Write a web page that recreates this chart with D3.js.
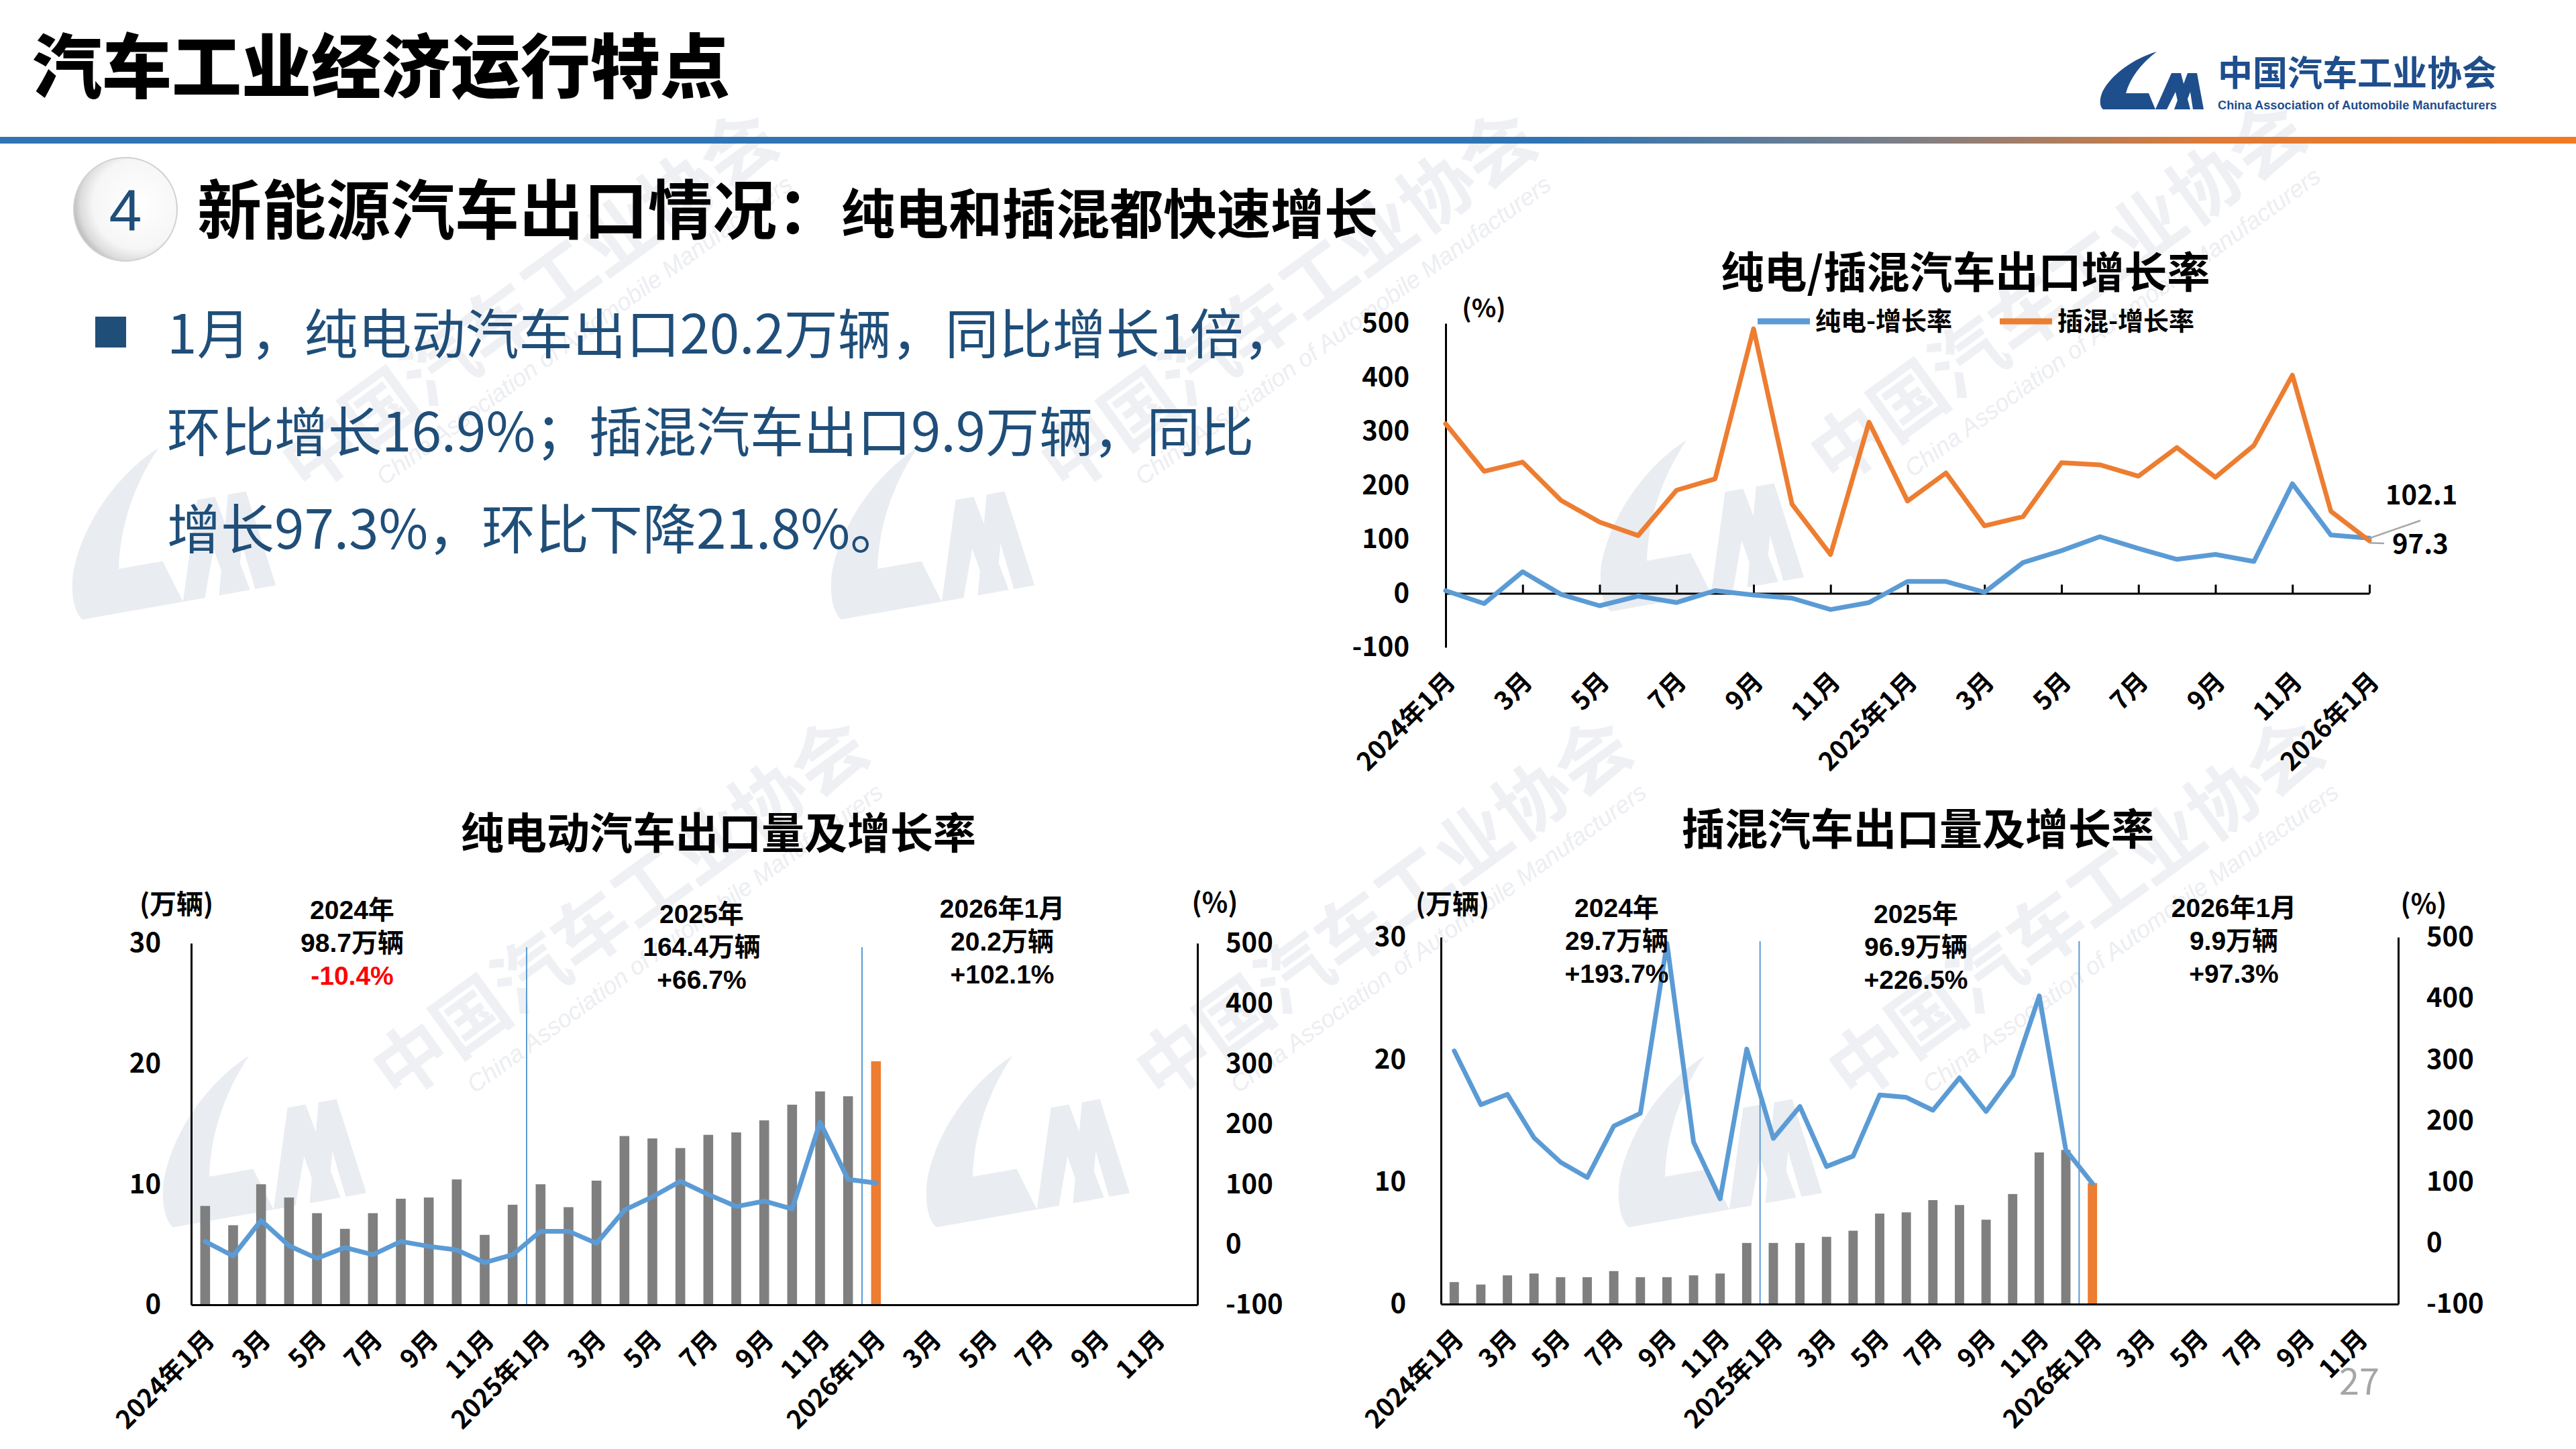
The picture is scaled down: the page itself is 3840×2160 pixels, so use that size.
<!DOCTYPE html>
<html><head><meta charset="utf-8">
<script src="https://cdn.jsdelivr.net/npm/d3@7/dist/d3.min.js"></script>
<style>
html,body{margin:0;padding:0;background:#fff;}
svg{display:block;}
</style></head><body>
<svg id="c" width="3840" height="2160"></svg>
<script>
// ---------------- DATA ----------------
const categories = ["2024年1月","2月","3月","4月","5月","6月","7月","8月","9月","10月","11月","12月",
  "2025年1月","2月","3月","4月","5月","6月","7月","8月","9月","10月","11月","12月",
  "2026年1月","2月","3月","4月","5月","6月","7月","8月","9月","10月","11月","12月"];
// 纯电 增长率 (%)
const bevGrowth = [5, -19, 40, -2, -23, -5, -17, 5, -3, -9, -30, -17, 22, 22, 2, 57, 79, 105, 83, 63, 72, 59, 203, 108, 102.1];
// 插混 增长率 (%)
const phevGrowth = [314, 226, 243, 172, 132, 107, 191, 212, 490, 165, 72, 317, 171, 223, 125, 142, 242, 238, 217, 270, 215, 274, 404, 152, 97.3];
// 纯电 出口量 (万辆)
const bevVolume = [8.2, 6.6, 10.0, 8.9, 7.6, 6.3, 7.6, 8.8, 8.9, 10.4, 5.8, 8.3, 10.0, 8.1, 10.3, 14.0, 13.8, 13.0, 14.1, 14.3, 15.3, 16.6, 17.7, 17.3, 20.2];
// 插混 出口量 (万辆)
const phevVolume = [1.8, 1.6, 2.35, 2.5, 2.2, 2.2, 2.7, 2.2, 2.2, 2.35, 2.5, 5.0, 5.0, 5.0, 5.5, 6.0, 7.4, 7.5, 8.5, 8.1, 6.9, 9.0, 12.4, 12.6, 9.9];
const growthTicks = [-100, 0, 100, 200, 300, 400, 500];
const volumeTicks = [0, 10, 20, 30];
const bevAnnotations = [["2024年","98.7万辆","-10.4%"],["2025年","164.4万辆","+66.7%"],["2026年1月","20.2万辆","+102.1%"]];
const phevAnnotations = [["2024年","29.7万辆","+193.7%"],["2025年","96.9万辆","+226.5%"],["2026年1月","9.9万辆","+97.3%"]];
const bulletLines = ["1月，纯电动汽车出口20.2万辆，同比增长1倍，","环比增长16.9%；插混汽车出口9.9万辆，同比","增长97.3%，环比下降21.8%。"];

// ---------------- SETUP ----------------
const FONT = '"Noto Sans CJK SC","Noto Sans",sans-serif';
const ANNFONT = '"Liberation Sans","Noto Sans CJK SC",sans-serif';
const BLUE = "#5b9bd5", ORANGE = "#ed7d31", BARGRAY = "#7f7f7f", NAVY = "#1f4e79", LOGOBLUE = "#1f4e8c";
const svg = d3.select("#c").attr("font-family", FONT);
const defs = svg.append("defs");

const lg = defs.append("linearGradient").attr("id","hdr").attr("x1","0").attr("x2","1").attr("y1","0").attr("y2","0");
[[0,"#2f75b5"],[0.6,"#2f75b5"],[0.74,"#7d7f86"],[0.86,"#e07a34"],[1,"#f47920"]].forEach(s=>lg.append("stop").attr("offset",s[0]).attr("stop-color",s[1]));
const rg = defs.append("radialGradient").attr("id","circ").attr("cx","0.62").attr("cy","0.45").attr("r","0.62");
[[0,"#ffffff"],[0.7,"#f6f6f6"],[0.9,"#dcdcdc"],[1,"#bfbfbf"]].forEach(s=>rg.append("stop").attr("offset",s[0]).attr("stop-color",s[1]));

const LOGO_PATHS = [
  "M86,0 C52,10 18,34 5,60 C0,72 1,82 6,86 L84,86 L74,62 L40,62 C46,40 62,18 86,0 Z",
  "M84,86 L108,32 L122,32 L136,86 L120,86 L114,60 L101,86 Z",
  "M112,86 L132,32 L146,32 L156,86 L140,86 L136,60 L126,86 Z"
];
function drawLogo(g, fill){ LOGO_PATHS.forEach(p=>g.append("path").attr("d",p).attr("fill",fill)); }

// ---------------- WATERMARKS ----------------
const wmUnits = [[245,784],[1376,784],[2523,772],[380,1690],[1518,1690],[2550,1690]];
const wm = svg.append("g");
wmUnits.forEach(([cx,cy])=>{
  const g = wm.append("g").attr("transform",`translate(${cx},${cy})`);
  const lgp = g.append("g").attr("transform","rotate(-10) scale(1.95,2.7) translate(-80,-43)");
  drawLogo(lgp, "#e9ecf1");
  const t = g.append("g").attr("transform","translate(545,-335) rotate(-36)");
  t.append("text").attr("text-anchor","middle").attr("dy","0.35em").attr("font-size",110).attr("font-weight",700)
    .attr("fill","#eef0f4").text("中国汽车工业协会");
  t.append("text").attr("text-anchor","middle").attr("x",40).attr("y",95).attr("font-size",36).attr("font-style","italic")
    .attr("font-family","Liberation Sans, Arial, sans-serif").attr("fill","#eceef2").text("China Association of Automobile Manufacturers");
});

// ---------------- HEADER ----------------
svg.append("text").attr("x",48).attr("y",138).attr("font-size",104).attr("font-weight",900).attr("fill","#000").text("汽车工业经济运行特点");
svg.append("rect").attr("x",0).attr("y",204).attr("width",3840).attr("height",10).attr("fill","url(#hdr)");
const logo = svg.append("g").attr("transform","translate(3129,77)");
drawLogo(logo, LOGOBLUE);
svg.append("text").attr("x",3306).attr("y",128).attr("font-size",52).attr("font-weight",700).attr("fill",LOGOBLUE)
  .attr("textLength",416).text("中国汽车工业协会");
svg.append("text").attr("x",3306).attr("y",163).attr("font-size",18).attr("font-weight",700).attr("fill",LOGOBLUE)
  .attr("font-family","Liberation Sans, Arial, sans-serif").attr("textLength",416).attr("lengthAdjust","spacingAndGlyphs")
  .text("China Association of Automobile Manufacturers");

// section marker
svg.append("circle").attr("cx",187).attr("cy",312).attr("r",77).attr("fill","url(#circ)").attr("stroke","#d0d0d0").attr("stroke-width",2);
svg.append("text").attr("x",187).attr("y",312).attr("dy","0.36em").attr("text-anchor","middle").attr("font-size",88)
  .attr("font-family","Liberation Sans, Arial, sans-serif").attr("fill",NAVY).text("4");
const h = svg.append("text").attr("x",294).attr("y",348).attr("font-weight",700).attr("fill","#000");
h.append("tspan").attr("font-size",96).text("新能源汽车出口情况：");
h.append("tspan").attr("font-size",80).text("纯电和插混都快速增长");

// bullet
svg.append("rect").attr("x",142).attr("y",472).attr("width",46).attr("height",46).attr("fill",NAVY);
bulletLines.forEach((s,i)=>{
  svg.append("text").attr("x",249).attr("y",527+i*145.5).attr("font-size",80).attr("fill",NAVY).text(s);
});

// page number
svg.append("text").attr("x",3517).attr("y",2060).attr("dy","0.35em").attr("text-anchor","middle").attr("font-size",54)
  .attr("fill","#a6a6a6").text("27");

// ---------------- helpers ----------------
const fmt = d => String(d);
function styleAxis(g, size){
  g.selectAll(".tick text").attr("font-family",FONT).attr("font-size",size).attr("font-weight",700).attr("fill","#000");
  g.select(".domain").attr("stroke","#000").attr("stroke-width",3);
  g.selectAll(".tick line").attr("stroke","#000").attr("stroke-width",3);
}
function rotateLabels(g, dx, dy){
  g.selectAll(".tick text").attr("x",0).attr("y",0).attr("dy","0.35em").attr("text-anchor","end")
    .attr("transform",`translate(${dx},${dy}) rotate(-45)`);
}
const evenIdx = n => d3.range(0,n,2);

// ---------------- TOP-RIGHT: growth rate line chart ----------------
(function(){
  const n = 25;
  const x = d3.scalePoint().domain(d3.range(n)).range([2155,3532]);
  const y = d3.scaleLinear().domain([-100,500]).range([965,482]);
  svg.append("text").attr("x",2930).attr("y",406).attr("dy","0.36em").attr("text-anchor","middle")
    .attr("font-size",64).attr("font-weight",700).text("纯电/插混汽车出口增长率");
  const ya = svg.append("g").attr("transform","translate(2155,0)")
    .call(d3.axisLeft(y).tickValues(growthTicks).tickFormat(fmt).tickSize(0).tickSizeOuter(0).tickPadding(54));
  styleAxis(ya, 40);
  const za = svg.append("g").attr("transform",`translate(0,${y(0)})`)
    .call(d3.axisBottom(x).tickValues(evenIdx(n)).tickSize(-13).tickSizeOuter(0).tickFormat(""));
  styleAxis(za, 40);
  const xa = svg.append("g").attr("transform","translate(0,965)")
    .call(d3.axisBottom(x).tickValues(evenIdx(n)).tickSize(0).tickFormat(i=>categories[i]));
  xa.select(".domain").remove();
  styleAxis(xa, 38); rotateLabels(xa, 7, 44);
  svg.append("text").attr("x",2212).attr("y",460).attr("dy","0.35em").attr("text-anchor","middle")
    .attr("font-size",38).attr("font-weight",700).text("(%)");
  const line = d3.line().x((d,i)=>x(i)).y(d=>y(d));
  [[bevGrowth,BLUE],[phevGrowth,ORANGE]].forEach(([data,col])=>{
    svg.append("path").datum(data).attr("d",line).attr("fill","none").attr("stroke",col)
      .attr("stroke-width",7).attr("stroke-linejoin","round").attr("stroke-linecap","round");
  });
  // legend
  [[2620,"纯电-增长率",BLUE],[2981,"插混-增长率",ORANGE]].forEach(([lx,t,col])=>{
    svg.append("line").attr("x1",lx).attr("x2",lx+78).attr("y1",479).attr("y2",479).attr("stroke",col).attr("stroke-width",9);
    svg.append("text").attr("x",lx+86).attr("y",479).attr("dy","0.35em").attr("font-size",38).attr("font-weight",700).text(t);
  });
  // data labels
  const lx = x(n-1);
  svg.append("line").attr("x1",lx).attr("y1",y(bevGrowth[n-1])).attr("x2",lx+76).attr("y2",776).attr("stroke","#a6a6a6").attr("stroke-width",2.5);
  svg.append("line").attr("x1",lx).attr("y1",y(phevGrowth[n-1])+3).attr("x2",lx+22).attr("y2",810).attr("stroke","#a6a6a6").attr("stroke-width",2.5);
  svg.append("text").attr("x",3556).attr("y",738).attr("dy","0.35em").attr("font-size",40).attr("font-weight",700).text(bevGrowth[n-1].toFixed(1));
  svg.append("text").attr("x",3566).attr("y",811).attr("dy","0.35em").attr("font-size",40).attr("font-weight",700).text(phevGrowth[n-1].toFixed(1));
})();

// ---------------- BOTTOM: volume bars + growth line ----------------
function barChart(o){
  const xb = d3.scaleBand().domain(d3.range(36)).range([o.x0,o.x1]).paddingInner(0.65).paddingOuter(0.325);
  const yl = d3.scaleLinear().domain([0,30]).range([o.yBot,o.yTop]);
  const yr = d3.scaleLinear().domain([-100,500]).range([o.yBot,o.yTop]);
  svg.append("text").attr("x",o.titleX).attr("y",o.titleY).attr("dy","0.36em").attr("text-anchor","middle")
    .attr("font-size",64).attr("font-weight",700).text(o.title);
  // bars
  svg.append("g").selectAll("rect").data(o.vol).join("rect")
    .attr("x",(d,i)=>xb(i)).attr("width",xb.bandwidth())
    .attr("y",d=>yl(d)).attr("height",d=>yl(0)-yl(d))
    .attr("fill",(d,i)=>i===o.vol.length-1?ORANGE:BARGRAY);
  // separators
  const step = xb.step();
  [12,24].forEach(k=>{
    svg.append("line").attr("x1",o.x0+k*step).attr("x2",o.x0+k*step).attr("y1",o.yTop+6).attr("y2",o.yBot)
      .attr("stroke",BLUE).attr("stroke-width",2);
  });
  // line
  const line = d3.line().x((d,i)=>xb(i)+xb.bandwidth()/2).y(d=>yr(d));
  svg.append("path").datum(o.growth).attr("d",line).attr("fill","none").attr("stroke",BLUE)
    .attr("stroke-width",7).attr("stroke-linejoin","round").attr("stroke-linecap","round");
  // axes
  const la = svg.append("g").attr("transform",`translate(${o.x0},0)`)
    .call(d3.axisLeft(yl).tickValues(volumeTicks).tickFormat(fmt).tickSize(0).tickSizeOuter(0).tickPadding(o.lpad));
  styleAxis(la, 40);
  const ra = svg.append("g").attr("transform",`translate(${o.x1},0)`)
    .call(d3.axisRight(yr).tickValues(growthTicks).tickFormat(fmt).tickSize(0).tickSizeOuter(0).tickPadding(42));
  styleAxis(ra, 40);
  const xa = svg.append("g").attr("transform",`translate(0,${o.yBot})`)
    .call(d3.axisBottom(xb).tickValues(evenIdx(36)).tickSize(0).tickSizeOuter(0).tickFormat(i=>categories[i]));
  styleAxis(xa, 38); rotateLabels(xa, 7, 45);
  // unit labels
  svg.append("text").attr("x",o.unitL[0]).attr("y",o.unitL[1]).attr("dy","0.35em").attr("text-anchor","middle")
    .attr("font-size",40).attr("font-weight",700).text("(万辆)");
  svg.append("text").attr("x",o.unitR[0]).attr("y",o.unitR[1]).attr("dy","0.35em").attr("text-anchor","middle")
    .attr("font-size",40).attr("font-weight",700).text("(%)");
  // annotations
  o.ann.forEach((lines,k)=>{
    lines.forEach((s,j)=>{
      svg.append("text").attr("x",o.annX[k]).attr("y",o.annY[k]+j*49).attr("dy","0.36em").attr("text-anchor","middle")
        .attr("font-family",ANNFONT).attr("font-size",39).attr("font-weight",700)
        .attr("fill",s.startsWith("-")?"#ff0000":"#000").text(s);
    });
  });
}

barChart({x0:285,x1:1785,yTop:1406,yBot:1945,vol:bevVolume,growth:bevGrowth,title:"纯电动汽车出口量及增长率",
  titleX:1071,titleY:1242,lpad:45,unitL:[263,1348],unitR:[1811,1346],ann:bevAnnotations,
  annX:[525,1046,1494],annY:[1356,1362,1354]});
barChart({x0:2148,x1:3575,yTop:1397,yBot:1944,vol:phevVolume,growth:phevGrowth,title:"插混汽车出口量及增长率",
  titleX:2859,titleY:1236,lpad:52,unitL:[2165,1348],unitR:[3613,1348],ann:phevAnnotations,
  annX:[2410,2856,3330],annY:[1353,1362,1353]});
</script>
</body></html>
